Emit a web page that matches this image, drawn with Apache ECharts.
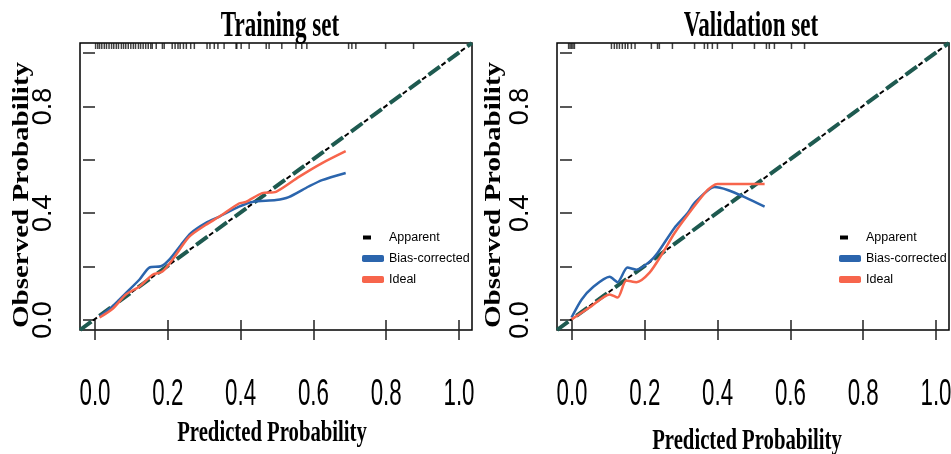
<!DOCTYPE html>
<html>
<head>
<meta charset="utf-8">
<script src="https://cdn.jsdelivr.net/npm/echarts@6/dist/echarts.min.js"></script>
<style>
  html, body { margin: 0; padding: 0; background: #fff; }
  #chart { width: 951px; height: 454px; }
</style>
</head>
<body>
<div id="chart"></div>
<script>
/* ── Data ──────────────────────────────────────────── */
// Training set
const trainBiasX = [0.014, 0.05, 0.087, 0.124, 0.151, 0.183, 0.206, 0.238, 0.266, 0.307, 0.343, 0.398, 0.435, 0.5, 0.535, 0.59, 0.627, 0.692];
const trainBiasY = [0.011, 0.05, 0.10, 0.15, 0.195, 0.20, 0.225, 0.28, 0.325, 0.363, 0.386, 0.424, 0.442, 0.449, 0.46, 0.50, 0.524, 0.551];
const trainIdealX = [0.014, 0.05, 0.087, 0.124, 0.16, 0.187, 0.215, 0.261, 0.307, 0.343, 0.398, 0.417, 0.462, 0.5, 0.563, 0.627, 0.692];
const trainIdealY = [0.007, 0.04, 0.094, 0.124, 0.168, 0.18, 0.225, 0.311, 0.356, 0.386, 0.436, 0.442, 0.475, 0.48, 0.536, 0.588, 0.633];
const trainRug = [0.003, 0.009, 0.014, 0.02, 0.027, 0.033, 0.04, 0.047, 0.053, 0.06, 0.066, 0.074, 0.08, 0.086, 0.093, 0.1, 0.107, 0.113, 0.121, 0.127, 0.134, 0.141, 0.148, 0.155,
  0.159, 0.17, 0.187, 0.192, 0.214, 0.222, 0.23, 0.236, 0.245, 0.253, 0.265, 0.275, 0.31, 0.318, 0.33, 0.34, 0.357,
  0.39, 0.392, 0.404, 0.426, 0.473, 0.481, 0.516, 0.555, 0.571, 0.585, 0.70, 0.709, 0.72, 0.802, 0.879];

// Validation set
const validBiasX = [0.0, 0.028, 0.058, 0.105, 0.127, 0.154, 0.179, 0.215, 0.237, 0.284, 0.32, 0.339, 0.394, 0.43, 0.477, 0.532];
const validBiasY = [0.007, 0.075, 0.12, 0.16, 0.14, 0.195, 0.187, 0.217, 0.25, 0.345, 0.40, 0.438, 0.498, 0.487, 0.46, 0.424];
const validIdealX = [0.0, 0.055, 0.105, 0.127, 0.151, 0.179, 0.215, 0.248, 0.284, 0.32, 0.375, 0.402, 0.532];
const validIdealY = [0.0, 0.05, 0.094, 0.082, 0.146, 0.14, 0.176, 0.243, 0.325, 0.393, 0.487, 0.509, 0.509];
const validRug = [-0.008, -0.004, 0.0, 0.004, 0.008, 0.11, 0.118, 0.125, 0.132, 0.14, 0.148, 0.155, 0.165, 0.175,
  0.22, 0.237, 0.242, 0.278, 0.339, 0.366, 0.375, 0.388, 0.402, 0.443, 0.504, 0.537, 0.545, 0.559, 0.606, 0.642];

const tickValues = [0, 0.2, 0.4, 0.6, 0.8, 1.0];
const yLabelShown = ["0.0", "0.4", "0.8"];
const legendNames = ["Apparent", "Bias-corrected", "Ideal"];

/* ── Styling ───────────────────────────────────────── */
const X_MIN = -0.04, X_MAX = 1.04;
const BLUE = "#2b65ad";
const RED = "#f7654c";
const DIAG = "#1e5a50";
const SERIF = '"Liberation Serif", "Times New Roman", serif';
const SANS = '"Liberation Sans", Arial, sans-serif';

const zip = (xs, ys) => xs.map((x, i) => [x, ys[i]]);
const diag = [[X_MIN, X_MIN], [X_MAX, X_MAX]];

const chart = echarts.init(document.getElementById("chart"));

/* Panel geometry: box grid + inner tick grid (0..1) */
const panels = [
  { boxLeft: 80, tickLeft: 95, title: "Training set", titleX: 280, xnameX: 272, xnameY: 433, ynameX: 22, legendLeft: 357,
    bias: zip(trainBiasX, trainBiasY), ideal: zip(trainIdealX, trainIdealY), rug: trainRug },
  { boxLeft: 557, tickLeft: 572, title: "Validation set", titleX: 751, xnameX: 747, xnameY: 441, ynameX: 494, legendLeft: 834,
    bias: zip(validBiasX, validBiasY), ideal: zip(validIdealX, validIdealY), rug: validRug },
];

const grid = [], xAxis = [], yAxis = [], series = [], legend = [], graphic = [];

panels.forEach((p, k) => {
  const box = k * 2, tick = k * 2 + 1;
  grid.push({ left: p.boxLeft, top: 43, width: 392, height: 287, show: true, borderColor: "#000", borderWidth: 1.5, backgroundColor: "transparent" });
  grid.push({ left: p.tickLeft, top: 53, width: 364, height: 267 });

  xAxis.push({ gridIndex: box, type: "value", min: X_MIN, max: X_MAX, show: false });
  yAxis.push({ gridIndex: box, type: "value", min: X_MIN, max: X_MAX, show: false });

  xAxis.push({
    gridIndex: tick, type: "value", min: 0, max: 1, interval: 0.2, offset: 10,
    axisLine: { show: false },
    axisTick: { show: true, length: 20, lineStyle: { color: "#222", width: 1.5 } },
    splitLine: { show: false },
    axisLabel: { show: false },
  });
  yAxis.push({
    gridIndex: tick, type: "value", min: 0, max: 1, interval: 0.2, offset: 15,
    axisLine: { show: false },
    axisTick: { show: true, length: 12, lineStyle: { color: "#222", width: 1.5 } },
    splitLine: { show: false },
    axisLabel: {
      rotate: 90, margin: 23, color: "#000", fontSize: 27, fontFamily: SANS,
      formatter: (v) => (yLabelShown.includes(v.toFixed(1)) ? v.toFixed(1) : ""),
    },
  });

  series.push({
    name: "diag", type: "line", xAxisIndex: box, yAxisIndex: box, data: diag, symbol: "none", silent: true,
    lineStyle: { color: DIAG, width: 4, type: [14, 10] }, z: 3,
  });
  series.push({
    name: "Apparent", type: "line", xAxisIndex: box, yAxisIndex: box, data: diag, symbol: "none",
    lineStyle: { color: "#000", width: 2, type: [5, 19], dashOffset: 8 }, itemStyle: { color: "#000" }, z: 4,
  });
  series.push({
    name: "Bias-corrected", type: "line", xAxisIndex: box, yAxisIndex: box, data: p.bias, symbol: "none", smooth: 0.25,
    lineStyle: { color: BLUE, width: 2.5 }, itemStyle: { color: BLUE }, z: 5,
  });
  series.push({
    name: "Ideal", type: "line", xAxisIndex: box, yAxisIndex: box, data: p.ideal, symbol: "none", smooth: 0.25,
    lineStyle: { color: RED, width: 2.5 }, itemStyle: { color: RED }, z: 6,
  });
  series.push({
    name: "rug", type: "scatter", xAxisIndex: box, yAxisIndex: box, silent: true,
    data: p.rug.map((x) => [x, X_MAX]),
    symbol: "rect", symbolSize: [1.5, 6], symbolOffset: [0, 3],
    itemStyle: { color: "#111" }, z: 2,
  });

  legend.push({
    orient: "vertical", left: p.legendLeft, top: 226, itemGap: 8, itemWidth: 22, itemHeight: 7,
    selectedMode: false,
    textStyle: { fontSize: 12.5, fontFamily: SANS, color: "#000" },
    data: [
      { name: legendNames[0], icon: "path://M0,0 M1,1.5 H9 V5.5 H1 Z M22,7", itemStyle: { color: "#000" } },
      { name: legendNames[1], icon: "roundRect", itemStyle: { color: BLUE } },
      { name: legendNames[2], icon: "roundRect", itemStyle: { color: RED } },
    ],
  });

  graphic.push({
    type: "text", x: p.titleX, y: 27, scaleX: 0.66, silent: true,
    style: { text: p.title, font: "bold 35px " + SERIF, fill: "#000", align: "center", verticalAlign: "middle" },
  });
  graphic.push({
    type: "text", x: p.xnameX, y: p.xnameY, scaleX: 0.69, silent: true,
    style: { text: "Predicted Probability", font: "bold 30px " + SERIF, fill: "#000", align: "center", verticalAlign: "middle" },
  });
  graphic.push({
    type: "text", x: p.ynameX, y: 195, rotation: Math.PI / 2, scaleY: 0.78, silent: true,
    style: { text: "Observed Probability", font: "bold 29px " + SERIF, fill: "#000", align: "center", verticalAlign: "middle" },
  });
});

chart.setOption({
  animation: false,
  backgroundColor: "#fff",
  grid, xAxis, yAxis, series, legend, graphic,
});

/* Condensed x tick labels, placed through the axis scale */
const tickLabels = [];
panels.forEach((p, k) => {
  tickValues.forEach((v) => {
    const px = chart.convertToPixel({ xAxisIndex: k * 2 + 1 }, v);
    tickLabels.push({
      type: "text", x: px, y: 395, scaleX: 0.62, silent: true,
      style: { text: v.toFixed(1), font: "36px " + SANS, fill: "#000", align: "center", verticalAlign: "middle" },
    });
  });
});
chart.setOption({ graphic: graphic.concat(tickLabels) });
</script>
</body>
</html>
